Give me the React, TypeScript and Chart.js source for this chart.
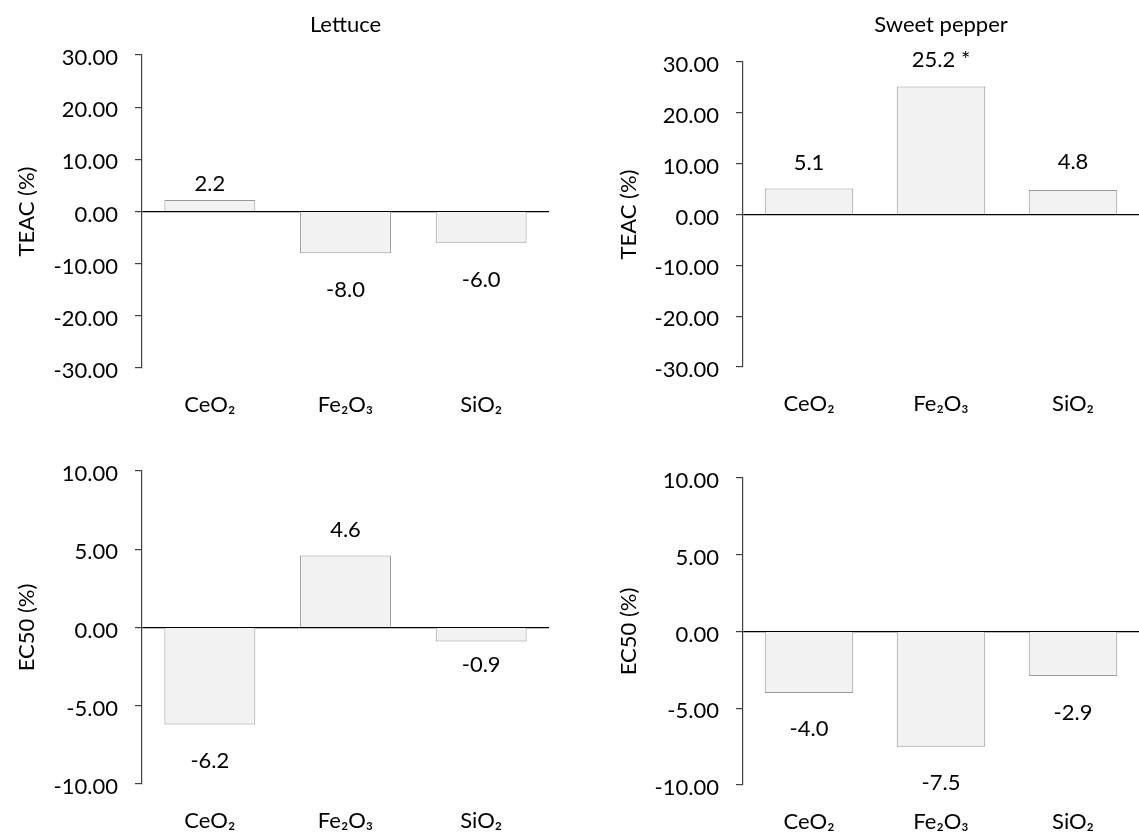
import React, { useEffect, useRef } from 'react';
import { Chart, registerables } from 'chart.js';

Chart.register(...registerables);

// ---- data ----
const categories = ['CeO₂', 'Fe₂O₃', 'SiO₂'];
const lettuceTeac = [2.2, -8.0, -6.0];
const pepperTeac = [5.1, 25.2, 4.8];
const lettuceEc50 = [-6.2, 4.6, -0.9];
const pepperEc50 = [-4.0, -7.5, -2.9];
const pepperTeacMarks = ['', ' *', ''];
const noMarks = ['', '', ''];
const teacTicks = [-30, -20, -10, 0, 10, 20, 30];
const ec50Ticks = [-10, -5, 0, 5, 10];
const panelTitles = ['Lettuce', 'Sweet pepper'];
const yTitles = ['TEAC (%)', 'EC50 (%)'];

const FONT_FAMILY = "Lato, 'Noto Sans', 'DejaVu Sans', sans-serif";
const FONT_SIZE = 22;

type Panel = {
  title: string;
  yTitle: string;
  values: number[];
  marks: string[];
  ticks: number[];
  left: number;
  top: number;
  width: number;
  height: number;
  area: { left: number; top: number; right: number; bottom: number };
  yTitleX: number;
  labelOffsets: number[];
};

const panels: Panel[] = [
  {
    title: panelTitles[0], yTitle: yTitles[0], values: lettuceTeac, marks: noMarks, ticks: teacTicks,
    left: 0, top: 0, width: 570, height: 418,
    area: { left: 142, top: 55, right: 549, bottom: 368 }, yTitleX: 27,
    labelOffsets: [-16, 37, 37],
  },
  {
    title: panelTitles[1], yTitle: yTitles[0], values: pepperTeac, marks: pepperTeacMarks, ticks: teacTicks,
    left: 570, top: 0, width: 569, height: 418,
    area: { left: 173, top: 62, right: 569, bottom: 367 }, yTitleX: 59,
    labelOffsets: [-26, -26, -28],
  },
  {
    title: '', yTitle: yTitles[1], values: lettuceEc50, marks: noMarks, ticks: ec50Ticks,
    left: 0, top: 418, width: 570, height: 418,
    area: { left: 142, top: 53, right: 549, bottom: 366 }, yTitleX: 27,
    labelOffsets: [36, -26, 23],
  },
  {
    title: '', yTitle: yTitles[1], values: pepperEc50, marks: noMarks, ticks: ec50Ticks,
    left: 570, top: 418, width: 569, height: 418,
    area: { left: 173, top: 60, right: 569, bottom: 367 }, yTitleX: 59,
    labelOffsets: [36, 36, 37],
  },
];

const valueLabels = {
  id: 'valueLabels',
  afterDatasetsDraw(chart: any, _args: any, opts: any) {
    const { ctx } = chart;
    const meta = chart.getDatasetMeta(0);
    const data = chart.data.datasets[0].data as number[];
    ctx.save();
    ctx.font = `${FONT_SIZE}px ${FONT_FAMILY}`;
    ctx.fillStyle = '#000';
    ctx.textAlign = 'center';
    ctx.textBaseline = 'middle';
    meta.data.forEach((el: any, i: number) => {
      const v = data[i];
      const text = v.toFixed(1) + ((opts.marks && opts.marks[i]) || '');
      ctx.fillText(text, el.x, el.y + (opts.offsets[i] || 0));
    });
    ctx.restore();
  },
};

function PanelChart({ p }: { p: Panel }) {
  const ref = useRef<HTMLCanvasElement | null>(null);
  useEffect(() => {
    if (!ref.current) return;
    const font = { family: FONT_FAMILY, size: FONT_SIZE, lineHeight: 1.2 };
    const titleLine = FONT_SIZE * 1.2;
    const hasTitle = !!p.title;
    const chart = new Chart(ref.current, {
      type: 'bar',
      data: {
        labels: categories,
        datasets: [
          {
            data: p.values,
            backgroundColor: '#F2F2F2',
            borderColor: '#999999',
            borderWidth: 1,
            categoryPercentage: 1,
            barPercentage: 0.67,
          },
        ],
      },
      options: {
        responsive: false,
        animation: false,
        devicePixelRatio: 1,
        layout: {
          padding: {
            top: hasTitle ? 0 : p.area.top,
            right: p.width - p.area.right,
            left: 0,
            bottom: 0,
          },
        },
        plugins: {
          legend: { display: false },
          tooltip: { enabled: false },
          title: {
            display: hasTitle,
            fullSize: false,
            text: p.title,
            color: '#000',
            font: { ...font, weight: 'normal' },
            padding: { top: 12, bottom: p.area.top - 12 - titleLine },
          },
          valueLabels: { marks: p.marks, offsets: p.labelOffsets },
        } as any,
        scales: {
          x: {
            grid: { display: false, drawTicks: false },
            border: { display: false },
            ticks: { font, color: '#000', padding: 24, maxRotation: 0 },
            afterFit: (s: any) => {
              s.height = p.height - p.area.bottom;
            },
          },
          y: {
            min: p.ticks[0],
            max: p.ticks[p.ticks.length - 1],
            z: 1,
            ticks: {
              stepSize: p.ticks[1] - p.ticks[0],
              callback: (v: any) => Number(v).toFixed(2),
              font,
              color: '#000',
              padding: 17,
              labelOffset: 3,
            },
            grid: {
              color: (c: any) => (c.tick && c.tick.value === 0 ? '#000' : 'rgba(0,0,0,0)'),
              tickColor: '#404040',
              tickLength: 7,
              lineWidth: 1.2,
            },
            border: { display: true, color: '#404040', width: 1.2 },
            title: {
              display: true,
              text: p.yTitle,
              color: '#000',
              font,
              padding: { top: p.yTitleX - titleLine / 2, bottom: 0 },
            },
            afterFit: (s: any) => {
              s.width = p.area.left;
            },
          },
        },
      } as any,
      plugins: [valueLabels],
    });
    return () => chart.destroy();
  }, [p]);
  return (
    <canvas
      ref={ref}
      width={p.width}
      height={p.height}
      style={{
        position: 'absolute',
        left: p.left,
        top: p.top,
        width: p.width,
        height: p.height,
      }}
    />
  );
}

export default function App() {
  return (
    <div
      style={{
        position: 'absolute',
        left: 0,
        top: 0,
        width: 1139,
        height: 836,
        background: '#fff',
        overflow: 'hidden',
      }}
    >
      {panels.map((p, i) => (
        <PanelChart key={i} p={p} />
      ))}
    </div>
  );
}
